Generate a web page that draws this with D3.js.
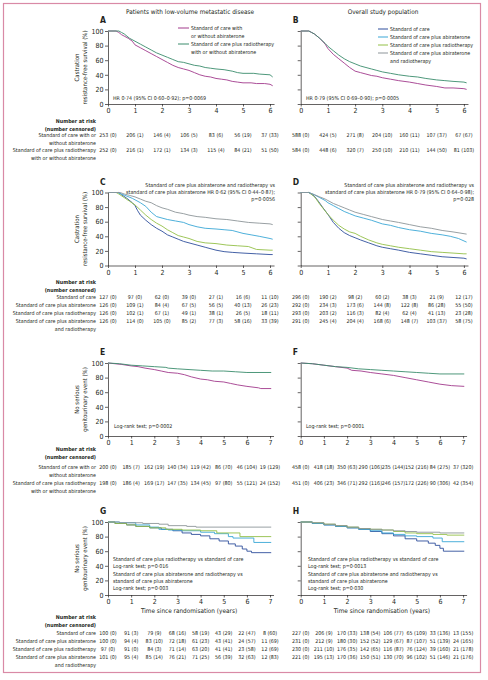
<!DOCTYPE html>
<html lang="en">
<head>
<meta charset="utf-8">
<title>Castration-resistance-free survival and genitourinary events</title>
<script src="https://cdn.jsdelivr.net/npm/d3@7"></script>
<style>
  body{margin:0;background:#fff;}
  svg text{font-family:"Liberation Sans Narrow","Arial Narrow","DejaVu Sans Condensed",sans-serif;fill:#231f20;}
</style>
</head>
<body>
<div id="chart"></div>
<script>
// ---- data ----
var yearTicks6 = [0, 1, 2, 3, 4, 5, 6]
var yearTicks7 = [0, 1, 2, 3, 4, 5, 6, 7]
var pctTicks = [0, 20, 40, 60, 80, 100]

var colSoc2 = "#a23a8c", colRt2 = "#3a8c6c"
var colSoc = "#2f4f9c", colAbi = "#3aa7d6", colRt = "#93c047", colAbiRt = "#8d9599"

// A: low-volume, castration-resistance-free survival
var aSoc = [[0,100],[0.3,100],[0.4,98],[0.5,95],[0.6,93],[0.75,90],[0.9,86],[1,81],[1.2,77],[1.4,73],[1.6,69],[1.8,65],[2,61],[2.2,57],[2.4,53],[2.6,50],[2.8,48],[3,46],[3.2,43],[3.4,40],[3.6,38],[3.8,37],[4,35],[4.2,34],[4.4,33],[4.6,31],[4.8,30],[5,29],[5.3,29],[5.5,28],[5.8,28],[6,27],[6.1,25]]
var aRt = [[0,100],[0.4,100],[0.5,98],[0.6,96],[0.8,90],[1,86],[1.2,82],[1.4,78],[1.6,74],[1.8,70],[2,67],[2.2,64],[2.4,61],[2.6,58],[2.8,57],[3,55],[3.2,53],[3.4,52],[3.6,50],[3.8,49],[4,48],[4.3,47],[4.6,45],[4.8,43],[5,42],[5.4,42],[5.6,41],[6,40],[6.1,37]]
// B: overall, castration-resistance-free survival
var bSoc = [[0,100],[0.3,100],[0.4,98],[0.5,96],[0.7,90],[0.9,82],[1,76],[1.2,68],[1.4,62],[1.6,56],[1.8,50],[2,45],[2.2,43],[2.4,41],[2.6,39],[2.8,38],[3,36],[3.3,34],[3.6,32],[4,30],[4.3,28],[4.6,26],[5,24],[5.3,22],[5.6,22],[6,21],[6.1,20]]
var bRt = [[0,100],[0.3,100],[0.4,98],[0.5,96],[0.7,90],[0.9,83],[1,79],[1.2,73],[1.4,67],[1.6,62],[1.8,58],[2,55],[2.2,52],[2.4,50],[2.6,48],[2.8,46],[3,44],[3.3,42],[3.6,40],[4,38],[4.3,37],[4.6,35],[5,33],[5.3,32],[5.6,31],[6,30],[6.1,29]]
// C: low-volume, four groups
var cSoc = [[0,100],[0.4,100],[0.5,97],[0.7,92],[0.9,86],[1,82],[1.1,75],[1.2,69],[1.4,62],[1.6,56],[1.8,51],[2,47],[2.2,42],[2.4,39],[2.6,36],[2.8,33],[3,31],[3.3,28],[3.6,25],[4,21],[4.3,19],[4.6,18],[5,17],[5.5,16],[6,15],[6.1,15]]
var cAbi = [[0,100],[0.35,100],[0.5,98],[0.7,95],[0.9,92],[1,90],[1.2,86],[1.4,81],[1.6,73],[1.8,67],[2,65],[2.2,63],[2.5,61],[2.8,59],[3,56],[3.3,53],[3.6,51],[4,50],[4.3,49],[4.6,48],[5,44],[5.3,42],[5.6,40],[6,37],[6.1,36]]
var cRt = [[0,100],[0.3,100],[0.4,98],[0.6,93],[0.8,88],[1,83],[1.2,76],[1.4,69],[1.6,63],[1.8,58],[2,54],[2.2,49],[2.4,45],[2.6,41],[2.8,39],[3,37],[3.3,33],[3.6,31],[4,30],[4.4,28],[4.8,27],[5.2,26],[5.5,22],[6,21],[6.1,21]]
var cAbiRt = [[0,100],[0.45,100],[0.6,98],[0.8,96],[1,94],[1.2,91],[1.4,88],[1.6,86],[1.8,82],[2,79],[2.2,77],[2.5,73],[2.8,71],[3,69],[3.3,67],[3.6,66],[4,64],[4.4,63],[4.8,61],[5.2,59],[5.6,58],[6,57],[6.1,56]]
// D: overall, four groups
var dSoc = [[0,100],[0.3,100],[0.5,95],[0.65,88],[0.8,80],[1,70],[1.2,59],[1.4,51],[1.6,45],[1.8,41],[2,38],[2.2,35],[2.5,31],[2.8,27],[3,25],[3.3,23],[3.6,21],[4,18],[4.4,16],[4.8,14],[5.2,12],[5.6,11],[6,10],[6.1,9]]
var dAbi = [[0,100],[0.3,100],[0.5,97],[0.7,93],[0.9,89],[1,86],[1.2,82],[1.4,78],[1.6,74],[1.8,71],[2,68],[2.3,65],[2.6,62],[3,57],[3.3,55],[3.6,52],[4,49],[4.4,47],[4.8,44],[5.2,42],[5.5,40],[5.8,37],[6.1,32]]
var dRt = [[0,100],[0.3,100],[0.45,96],[0.55,92],[0.7,84],[0.85,77],[1,70],[1.2,62],[1.4,55],[1.6,50],[1.8,46],[2,44],[2.2,40],[2.5,35],[2.8,31],[3,29],[3.3,27],[3.6,25],[4,23],[4.4,21],[4.8,19],[5.2,18],[5.6,17],[6,16],[6.1,16]]
var dAbiRt = [[0,100],[0.3,100],[0.5,97],[0.7,94],[0.9,91],[1,89],[1.2,85],[1.4,82],[1.6,79],[1.8,76],[2,73],[2.3,70],[2.6,67],[3,63],[3.3,61],[3.6,59],[4,56],[4.4,53],[4.8,51],[5.2,48],[5.6,46],[6.1,43]]
// E, F: no serious genitourinary event, two groups
var eSoc = [[0,100],[0.3,99],[0.6,98],[1,96],[1.3,95],[1.6,93],[2,91],[2.3,89],[2.6,87],[3,86],[3.3,84],[3.6,81],[4,78],[4.3,77],[4.6,75],[5,74],[5.3,72],[5.6,70],[6,68],[6.5,66],[6.6,65],[7.05,65]]
var eRt = [[0,100],[0.5,99],[1,97],[1.5,96],[2,95],[2.5,94],[2.6,93],[3,92],[3.5,91],[4,90],[4.5,89],[5,89],[5.5,88],[6,87],[7.05,87]]
var fSoc = [[0,100],[0.5,99],[1,97],[1.5,95],[2,93],[2.2,90],[2.6,89],[3,87],[3.5,85],[4,83],[4.5,80],[5,77],[5.5,74],[6,71],[6.5,69],[7.05,68]]
var fRt = [[0,100],[0.5,99],[1,97],[1.5,95],[2,94],[2.5,92],[3,91],[3.5,90],[4,89],[4.5,88],[5,87],[5.5,86],[6,85],[7.05,85]]
// G, H: no serious genitourinary event, four groups
var gSoc = [[0,100],[0.3,98],[0.8,96],[1.2,94],[1.8,92],[2.3,90],[2.8,88],[3.2,85],[3.6,83],[4,81],[4.4,77],[4.8,74],[5.2,70],[5.5,67],[5.8,63],[6,60],[6.2,58],[7.05,58]]
var gAbi = [[0,100],[0.5,99],[1.2,96],[1.8,93],[2.2,90],[2.6,89],[3.2,88],[4,86],[4.6,84],[5.2,80],[5.4,78],[6.3,72],[7.05,72]]
var gRt = [[0,100],[0.3,98],[0.8,96],[1.2,94],[1.8,92],[2.5,90],[3.2,89],[4,88],[4.7,85],[5.7,80],[7.05,80]]
var gAbiRt = [[0,100],[0.5,99],[1.5,98],[2.2,97],[2.6,95],[3.4,94],[3.8,93],[7.05,93]]
var hSoc = [[0,100],[0.5,98],[1,96],[1.5,94],[2,92],[2.5,90],[3,87],[3.5,84],[4,81],[4.5,77],[5,74],[5.5,71],[5.8,68],[6,64],[6.15,60],[7.05,60]]
var hAbi = [[0,100],[0.5,98],[1,96],[1.5,94],[2,92],[2.5,90],[3,88],[3.5,85],[4,83],[4.5,81],[5,80],[5.7,78],[6.1,73],[7.05,73]]
var hRt = [[0,100],[0.5,99],[1,97],[1.5,95],[2,93],[2.5,91],[3,90],[3.5,89],[4,87],[4.5,85],[5,84],[5.7,83],[6.3,82],[7.05,82]]
var hAbiRt = [[0,100],[0.5,99],[1,97],[1.5,95],[2,93],[2.5,91],[3,90],[3.5,89],[4,88],[4.5,87],[5,86],[6,85],[7.05,85]]

// numbers at risk (number censored)
var labels2 = [["Standard of care with or", "without abiraterone"], ["Standard of care plus radiotherapy", "with or without abiraterone"]]
var labels4 = [["Standard of care"], ["Standard of care plus abiraterone"], ["Standard of care plus radiotherapy"], ["Standard of care plus abiraterone", "and radiotherapy"]]

var riskA = [["253 (0)","206 (1)","146 (4)","106 (5)","83 (6)","56 (19)","37 (33)"],
             ["252 (0)","216 (1)","172 (1)","134 (3)","115 (4)","84 (21)","51 (50)"]]
var riskB = [["588 (0)","424 (5)","271 (8)","204 (10)","160 (11)","107 (37)","67 (67)"],
             ["584 (0)","448 (6)","320 (7)","250 (10)","210 (11)","144 (50)","81 (103)"]]
var riskC = [["127 (0)","97 (0)","62 (0)","39 (0)","27 (1)","16 (6)","11 (10)"],
             ["126 (0)","109 (1)","84 (4)","67 (5)","56 (5)","40 (13)","26 (23)"],
             ["126 (0)","102 (1)","67 (1)","49 (1)","38 (1)","26 (5)","18 (11)"],
             ["126 (0)","114 (0)","105 (0)","85 (2)","77 (3)","58 (16)","33 (39)"]]
var riskD = [["296 (0)","190 (2)","98 (2)","60 (2)","38 (3)","21 (9)","12 (17)"],
             ["292 (0)","234 (3)","173 (6)","144 (8)","122 (8)","86 (28)","55 (50)"],
             ["293 (0)","203 (2)","116 (3)","82 (4)","62 (4)","41 (13)","23 (28)"],
             ["291 (0)","245 (4)","204 (4)","168 (6)","148 (7)","103 (37)","58 (75)"]]
var riskE = [["200 (0)","185 (7)","162 (19)","140 (34)","119 (42)","86 (70)","46 (104)","19 (129)"],
             ["198 (0)","186 (4)","169 (17)","147 (35)","134 (45)","97 (80)","55 (121)","24 (152)"]]
var riskF = [["458 (0)","418 (18)","350 (63)","290 (106)","235 (144)","152 (216)","84 (275)","37 (320)"],
             ["451 (0)","406 (23)","346 (71)","292 (116)","246 (157)","172 (226)","90 (306)","42 (354)"]]
var riskG = [["100 (0)","91 (3)","79 (9)","68 (16)","58 (19)","43 (29)","22 (47)","8 (60)"],
             ["100 (0)","94 (4)","83 (10)","72 (18)","61 (23)","43 (41)","24 (57)","11 (69)"],
             ["97 (0)","91 (0)","84 (3)","71 (14)","63 (20)","41 (41)","23 (58)","12 (69)"],
             ["101 (0)","95 (4)","85 (14)","76 (21)","71 (25)","56 (39)","32 (63)","12 (83)"]]
var riskH = [["227 (0)","206 (9)","170 (33)","138 (54)","106 (77)","65 (109)","33 (136)","13 (155)"],
             ["231 (0)","212 (9)","180 (30)","152 (52)","129 (67)","87 (107)","51 (139)","24 (165)"],
             ["230 (0)","211 (10)","176 (35)","142 (65)","116 (87)","76 (124)","39 (160)","21 (178)"],
             ["221 (0)","195 (13)","170 (36)","150 (51)","130 (70)","96 (102)","51 (146)","21 (176)"]]

// ---- drawing ----
var W = 488, H = 680
var ink = "#231f20"
var fs = 5.3

var svg = d3.select("#chart").append("svg")
            .attr("width", W).attr("height", H)

svg.append("rect")
   .attr("x", 3.5).attr("y", 3.5)
   .attr("width", 477).attr("height", 669)
   .attr("fill", "none").attr("stroke", "#d98aa6").attr("stroke-width", 1.2)

function txt(x, y, s, anchor, size, weight){
  return svg.append("text").attr("x", x).attr("y", y)
            .attr("text-anchor", anchor || "start")
            .attr("font-size", (size || fs) + "px")
            .attr("font-weight", weight || "normal")
            .text(s)
}

txt(190, 14, "Patients with low-volume metastatic disease", "middle", 6.4)
txt(383, 14, "Overall study population", "middle", 6.4)

function drawPanel(p){
  var x = d3.scaleLinear().domain([0, p.xMax]).range([p.left, p.left + p.xMax * p.pxYear])
  var y = d3.scaleLinear().domain([0, 100]).range([p.top + 73, p.top])

  var xa = svg.append("g")
     .attr("transform", "translate(0," + y(0) + ")")
     .call(d3.axisBottom(x).tickValues(p.ticks).tickFormat(d3.format("d"))
             .tickSize(2.5).tickSizeOuter(0).tickPadding(2))
  var ya = svg.append("g")
     .attr("transform", "translate(" + p.left + ",0)")
     .call(d3.axisLeft(y).tickValues(pctTicks).tickSize(3).tickSizeOuter(0).tickPadding(1.5))
  if(!p.yLabels) ya.selectAll(".tick text").remove()

  ;[xa, ya].forEach(function(a){
    a.select(".domain").attr("stroke", ink).attr("stroke-width", 0.7)
    a.selectAll(".tick line").attr("stroke", ink).attr("stroke-width", 0.7)
    a.selectAll(".tick text").attr("font-size", "7px").attr("fill", ink)
     .style("font-family", "'Liberation Sans Narrow','Arial Narrow','DejaVu Sans Condensed',sans-serif")
  })

  var line = d3.line()
               .x(function(d){ return x(d[0]) })
               .y(function(d){ return y(d[1]) })
               .curve(p.step ? d3.curveStepAfter : d3.curveLinear)

  p.curves.forEach(function(c){
    svg.append("path").datum(c.data)
       .attr("d", line)
       .attr("fill", "none")
       .attr("stroke", c.color)
       .attr("stroke-width", 0.9)
  })

  txt(p.left - 8, p.top - 8, p.letter, "start", 8.5, "600")

  if(p.yTitle){
    var cy = p.top + 36.5
    p.yTitle.forEach(function(s, i){
      svg.append("text")
         .attr("transform", "translate(" + (79 + i * 8) + "," + cy + ") rotate(-90)")
         .attr("text-anchor", "middle")
         .attr("font-size", "6px")
         .text(s)
    })
  }
  if(p.xTitle){
    txt((x(0) + x(7)) / 2, y(0) + 18, p.xTitle, "middle", 6.4)
  }
  return x
}

function drawRisk(x, rows, labels, values, showLabels, headY){
  if(showLabels){
    txt(96, headY, "Number at risk", "end", fs, "bold")
    txt(96, headY + 8, "(number censored)", "end", fs, "bold")
  }
  values.forEach(function(row, i){
    if(showLabels){
      labels[i].forEach(function(s, j){
        txt(96, rows[i] + j * 8, s, "end")
      })
    }
    row.forEach(function(v, k){
      txt(x(k), rows[i], v, "middle")
    })
  })
}

// A and B
var xA = drawPanel({left:108, top:31, xMax:6.15, pxYear:27, ticks:yearTicks6, yLabels:true, letter:"A",
  yTitle:["Castration", "resistance-free survival (%)"],
  curves:[{data:aSoc, color:colSoc2}, {data:aRt, color:colRt2}]})
var xB = drawPanel({left:300.7, top:31, xMax:6.15, pxYear:27.2, ticks:yearTicks6, yLabels:false, letter:"B",
  curves:[{data:bSoc, color:colSoc2}, {data:bRt, color:colRt2}]})

// legends
;[[colSoc2, 30, ["Standard of care with", "or without abiraterone"]],
  [colRt2, 46, ["Standard of care plus radiotherapy", "with or without abiraterone"]]].forEach(function(l){
  svg.append("line").attr("x1", 178).attr("x2", 189).attr("y1", l[1] - 2).attr("y2", l[1] - 2)
     .attr("stroke", l[0]).attr("stroke-width", 1)
  l[2].forEach(function(s, j){ txt(191, l[1] + j * 8, s) })
})
;[[colSoc, 31, ["Standard of care"]],
  [colAbi, 39, ["Standard of care plus abiraterone"]],
  [colRt, 47, ["Standard of care plus radiotherapy"]],
  [colAbiRt, 55, ["Standard of care plus abiraterone", "and radiotherapy"]]].forEach(function(l){
  svg.append("line").attr("x1", 378).attr("x2", 388).attr("y1", l[1] - 2).attr("y2", l[1] - 2)
     .attr("stroke", l[0]).attr("stroke-width", 1)
  l[2].forEach(function(s, j){ txt(390, l[1] + j * 7.5, s) })
})

txt(113, 100, "HR 0\u00b774 (95% CI 0\u00b760\u20130\u00b792); p=0\u00b70069")
txt(306, 100, "HR 0\u00b779 (95% CI 0\u00b769\u20130\u00b790); p=0\u00b70005")

drawRisk(xA, [137, 152], labels2, riskA, true, 123)
drawRisk(xB, [137, 152], labels2, riskB, false)

// C and D
var xC = drawPanel({left:108, top:192.5, xMax:6.15, pxYear:27, ticks:yearTicks6, yLabels:true, letter:"C",
  yTitle:["Castration", "resistance-free survival (%)"],
  curves:[{data:cSoc, color:colSoc}, {data:cRt, color:colRt}, {data:cAbi, color:colAbi}, {data:cAbiRt, color:colAbiRt}]})
var xD = drawPanel({left:300.7, top:192.5, xMax:6.15, pxYear:27.2, ticks:yearTicks6, yLabels:false, letter:"D",
  curves:[{data:dSoc, color:colSoc}, {data:dRt, color:colRt}, {data:dAbi, color:colAbi}, {data:dAbiRt, color:colAbiRt}]})

txt(275, 187, "Standard of care plus abiraterone and radiotherapy vs", "end")
txt(275, 194, "standard of care plus abiraterone HR 0\u00b762 (95% CI 0\u00b744\u20130\u00b787);", "end")
txt(275, 201, "p=0\u00b70056", "end")
txt(474, 187, "Standard of care plus abiraterone and radiotherapy vs", "end")
txt(474, 194, "standard of care plus abiraterone HR 0\u00b779 (95% CI 0\u00b764\u20130\u00b798);", "end")
txt(474, 201, "p=0\u00b7028", "end")

drawRisk(xC, [299, 307, 315, 323], labels4, riskC, true, 284)
drawRisk(xD, [299, 307, 315, 323], labels4, riskD, false)

// E and F
var xE = drawPanel({left:108, top:363, xMax:7.15, pxYear:23.15, ticks:yearTicks7, yLabels:true, letter:"E",
  yTitle:["No serious", "genitourinary event (%)"],
  curves:[{data:eSoc, color:colSoc2}, {data:eRt, color:colRt2}]})
var xF = drawPanel({left:300.7, top:363, xMax:7.15, pxYear:23.2, ticks:yearTicks7, yLabels:false, letter:"F",
  curves:[{data:fSoc, color:colSoc2}, {data:fRt, color:colRt2}]})

txt(114, 428, "Log-rank test; p=0\u00b70002")
txt(306, 428, "Log-rank test; p=0\u00b70001")

drawRisk(xE, [469, 485], labels2, riskE, true, 451)
drawRisk(xF, [469, 485], labels2, riskF, false)

// G and H
var xG = drawPanel({left:108, top:522, xMax:7.15, pxYear:23.15, ticks:yearTicks7, yLabels:true, letter:"G", step:true,
  yTitle:["No serious", "genitourinary event (%)"], xTitle:"Time since randomisation (years)",
  curves:[{data:gSoc, color:colSoc}, {data:gAbi, color:colAbi}, {data:gRt, color:colRt}, {data:gAbiRt, color:colAbiRt}]})
var xH = drawPanel({left:300.7, top:522, xMax:7.15, pxYear:23.2, ticks:yearTicks7, yLabels:false, letter:"H", step:true,
  xTitle:"Time since randomisation (years)",
  curves:[{data:hSoc, color:colSoc}, {data:hAbi, color:colAbi}, {data:hRt, color:colRt}, {data:hAbiRt, color:colAbiRt}]})

;[[113, "0\u00b7016", "0\u00b7003"], [308, "0\u00b70013", "0\u00b7030"]].forEach(function(a){
  txt(a[0], 561, "Standard of care plus radiotherapy vs standard of care")
  txt(a[0], 568, "Log-rank test; p=" + a[1])
  txt(a[0], 576, "Standard of care plus abiraterone and radiotherapy vs")
  txt(a[0], 583, "standard of care plus abiraterone")
  txt(a[0], 590, "Log-rank test; p=" + a[2])
})

drawRisk(xG, [635, 643, 651, 659], labels4, riskG, true, 619)
drawRisk(xH, [635, 643, 651, 659], labels4, riskH, false)
</script>
</body>
</html>
